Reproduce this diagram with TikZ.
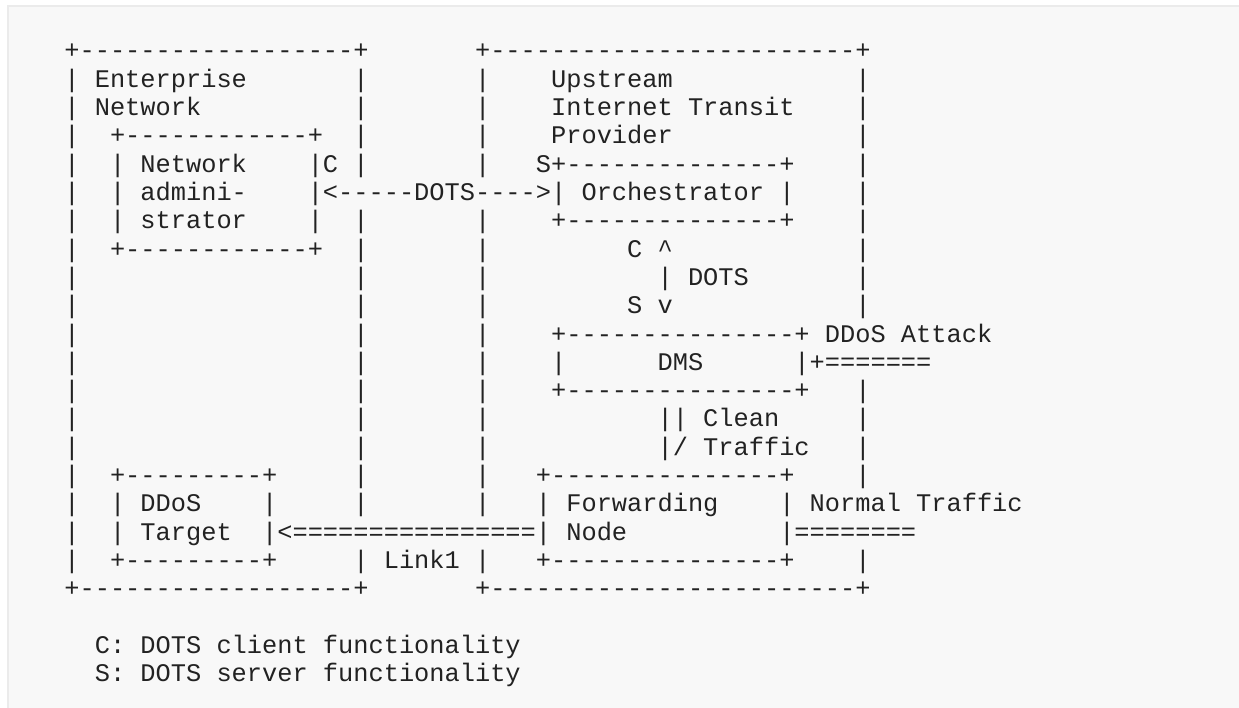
\documentclass[tikz,border=0pt]{standalone}
\usepackage{fontspec}
\setmonofont{Liberation Mono}
\definecolor{ink}{HTML}{222222}
\definecolor{codebg}{HTML}{F8F8F8}
\definecolor{codeborder}{HTML}{EBEBEB}
\newcommand\seg[4]{\node[txt] (#1) at ({64.4+#2*15.21},{59+#3*28.3}) {#4};}
\begin{document}
\begin{tikzpicture}[x=1pt,y=-1pt,
  txt/.style={anchor=base west,inner sep=0pt,outer sep=0pt,text=ink,
    font={\ttfamily\fontsize{25.35}{28.3}\selectfont}}]
\path[use as bounding box,fill=white] (0,0) rectangle (1239,708);
\fill[codebg] (8,6) rectangle (1239,708);
\draw[codeborder,line width=2pt] (8,708) -- (8,6) -- (1239,6);
% row 0
\seg{a0}{0}{0}{+------------------+}
\seg{b0}{27}{0}{+------------------------+}
% row 1
\seg{a1}{0}{1}{|}\seg{e1}{2}{1}{Enterprise}\seg{c1}{19}{1}{|}
\seg{b1}{27}{1}{|}\seg{u1}{32}{1}{Upstream}\seg{d1}{52}{1}{|}
% row 2
\seg{a2}{0}{2}{|}\seg{e2}{2}{2}{Network}\seg{c2}{19}{2}{|}
\seg{b2}{27}{2}{|}\seg{u2}{32}{2}{Internet Transit}\seg{d2}{52}{2}{|}
% row 3
\seg{a3}{0}{3}{|}\seg{n3}{3}{3}{+------------+}\seg{c3}{19}{3}{|}
\seg{b3}{27}{3}{|}\seg{u3}{32}{3}{Provider}\seg{d3}{52}{3}{|}
% row 4
\seg{a4}{0}{4}{|}\seg{n4}{3}{4}{|}\seg{t4}{5}{4}{Network}\seg{m4}{16}{4}{|C}\seg{c4}{19}{4}{|}
\seg{b4}{27}{4}{|}\seg{o4}{31}{4}{S+--------------+}\seg{d4}{52}{4}{|}
% row 5
\seg{a5}{0}{5}{|}\seg{n5}{3}{5}{|}\seg{t5}{5}{5}{admini-}
\seg{dots5}{16}{5}{|<-----DOTS---->|}
\seg{o5}{34}{5}{Orchestrator}\seg{p5}{47}{5}{|}\seg{d5}{52}{5}{|}
% row 6
\seg{a6}{0}{6}{|}\seg{n6}{3}{6}{|}\seg{t6}{5}{6}{strator}\seg{m6}{16}{6}{|}\seg{c6}{19}{6}{|}
\seg{b6}{27}{6}{|}\seg{o6}{32}{6}{+--------------+}\seg{d6}{52}{6}{|}
% row 7
\seg{a7}{0}{7}{|}\seg{n7}{3}{7}{+------------+}\seg{c7}{19}{7}{|}
\seg{b7}{27}{7}{|}\seg{k7}{37}{7}{C \textasciicircum}\seg{d7}{52}{7}{|}
% row 8
\seg{a8}{0}{8}{|}\seg{c8}{19}{8}{|}
\seg{b8}{27}{8}{|}\seg{k8}{39}{8}{| DOTS}\seg{d8}{52}{8}{|}
% row 9
\seg{a9}{0}{9}{|}\seg{c9}{19}{9}{|}
\seg{b9}{27}{9}{|}\seg{k9}{37}{9}{S v}\seg{d9}{52}{9}{|}
% row 10
\seg{a10}{0}{10}{|}\seg{c10}{19}{10}{|}
\seg{b10}{27}{10}{|}\seg{m10}{32}{10}{+---------------+ DDoS Attack}
% row 11
\seg{a11}{0}{11}{|}\seg{c11}{19}{11}{|}
\seg{b11}{27}{11}{|}\seg{m11}{32}{11}{|}\seg{dms}{39}{11}{DMS}\seg{att11}{48}{11}{|+=======}
% row 12
\seg{a12}{0}{12}{|}\seg{c12}{19}{12}{|}
\seg{b12}{27}{12}{|}\seg{m12}{32}{12}{+---------------+}\seg{d12}{52}{12}{|}
% row 13
\seg{a13}{0}{13}{|}\seg{c13}{19}{13}{|}
\seg{b13}{27}{13}{|}\seg{k13}{39}{13}{|| Clean}\seg{d13}{52}{13}{|}
% row 14
\seg{a14}{0}{14}{|}\seg{c14}{19}{14}{|}
\seg{b14}{27}{14}{|}\seg{k14}{39}{14}{|/ Traffic}\seg{d14}{52}{14}{|}
% row 15
\seg{a15}{0}{15}{|}\seg{g15}{3}{15}{+---------+}\seg{c15}{19}{15}{|}
\seg{b15}{27}{15}{|}\seg{f15}{31}{15}{+---------------+}\seg{d15}{52}{15}{|}
% row 16
\seg{a16}{0}{16}{|}\seg{g16}{3}{16}{|}\seg{t16}{5}{16}{DDoS}\seg{h16}{13}{16}{|}\seg{c16}{19}{16}{|}
\seg{b16}{27}{16}{|}\seg{f16}{31}{16}{|}\seg{w16}{33}{16}{Forwarding}\seg{nt16}{47}{16}{| Normal Traffic}
% row 17
\seg{a17}{0}{17}{|}\seg{g17}{3}{17}{|}\seg{t17}{5}{17}{Target}
\seg{link17}{13}{17}{|<================|}
\seg{w17}{33}{17}{Node}\seg{nt17}{47}{17}{|========}
% row 18
\seg{a18}{0}{18}{|}\seg{g18}{3}{18}{+---------+}\seg{l18}{19}{18}{| Link1 |}
\seg{f18}{31}{18}{+---------------+}\seg{d18}{52}{18}{|}
% row 19
\seg{a19}{0}{19}{+------------------+}
\seg{b19}{27}{19}{+------------------------+}
% legend
\seg{legC}{2}{21}{C: DOTS client functionality}
\seg{legS}{2}{22}{S: DOTS server functionality}
\end{tikzpicture}
\end{document}
